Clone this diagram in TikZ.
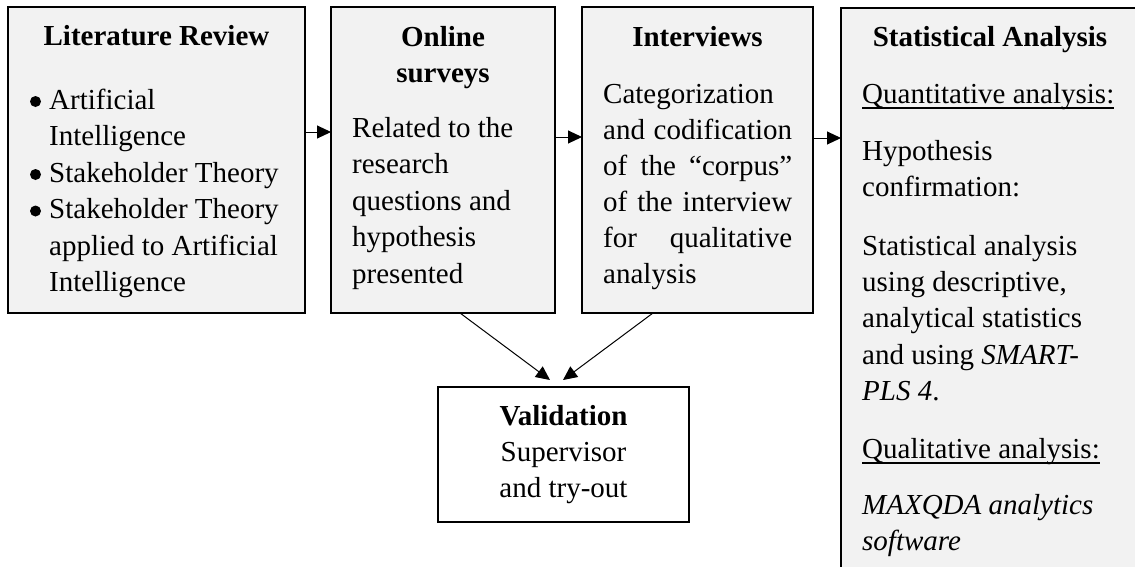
\documentclass[tikz,border=0pt]{standalone}
\usepackage{fontspec}
\setmainfont{Liberation Serif}
\usetikzlibrary{arrows.meta}
\definecolor{panelgray}{HTML}{F2F2F2}
% body font and an underline that runs through descenders
\newcommand\bodyfont{\fontsize{29}{36}\selectfont}
\newcommand\ulc[1]{\leavevmode\setbox0\hbox{#1}\rlap{\rule[-5.5pt]{\wd0}{1.5pt}}\box0}
\newcommand\jline[1]{\makebox[189pt][s]{#1}}
\begin{document}
\begin{tikzpicture}[x=1pt,y=-1pt,
  panel/.style={draw=black, line width=1.6pt, fill=panelgray, inner sep=0pt, outer sep=0pt, anchor=north west},
  whitepanel/.style={panel, fill=white, line width=1.8pt},
  txt/.style={inner sep=0pt, anchor=base west, font=\bodyfont},
  ttl/.style={inner sep=0pt, anchor=base, font=\bodyfont\bfseries},
  ctr/.style={inner sep=0pt, anchor=base, font=\bodyfont},
  dot/.style={circle, fill=black, inner sep=0pt, minimum size=11pt},
  arr/.style={-{Triangle[length=14pt,width=13pt]}, line width=1pt}]
\useasboundingbox (0,0) rectangle (1135,566);
\clip (0,0) rectangle (1135,566);

% the four stage boxes and the validation box
\node[panel, minimum width=297pt, minimum height=306pt] (lit) at (8,7) {};
\node[panel, minimum width=224pt, minimum height=306pt] (srv) at (331,7) {};
\node[panel, minimum width=231pt, minimum height=306pt] (itv) at (582,7) {};
\node[panel, minimum width=300pt, minimum height=580pt] (sta) at (841,8) {};
\node[whitepanel, minimum width=251pt, minimum height=135pt] (val) at (438,387) {};

% Literature Review
\node[ttl] (litT) at (156.5,45) {Literature Review};
\node[dot] (litB1) at (35.5,101.5) {};
\node[txt] (lit1) at (49,109) {Artificial};
\node[txt] (lit2) at (49,145.5) {Intelligence};
\node[dot] (litB2) at (35.5,174.5) {};
\node[txt] (lit3) at (49,182) {Stakeholder Theory};
\node[dot] (litB3) at (35.5,211) {};
\node[txt] (lit4) at (49,218.5) {Stakeholder Theory};
\node[txt] (lit5) at (49,255) {applied to Artificial};
\node[txt] (lit6) at (49,291.5) {Intelligence};

% Online surveys
\node[ttl] (srvT1) at (443,46) {Online};
\node[ttl] (srvT2) at (443,82) {surveys};
\node[txt] (srv1) at (352,137) {Related to the};
\node[txt] (srv2) at (352,173.5) {research};
\node[txt] (srv3) at (352,210) {questions and};
\node[txt] (srv4) at (352,246.5) {hypothesis};
\node[txt] (srv5) at (352,283) {presented};

% Interviews (justified paragraph)
\node[ttl] (itvT) at (697.5,46) {Interviews};
\node[txt] (itv1) at (603,103) {Categorization};
\node[txt] (itv2) at (603,139) {\jline{and codification}};
\node[txt] (itv3) at (603,175) {\jline{of the “corpus”}};
\node[txt] (itv4) at (603,211) {\jline{of the interview}};
\node[txt] (itv5) at (603,247) {\jline{for qualitative}};
\node[txt] (itv6) at (603,283) {analysis};

% Statistical Analysis
\node[ttl] (staT) at (990,46) {Statistical Analysis};
\node[txt] (sta1) at (862,103) {\ulc{Quantitative analysis:}};
\node[txt] (sta2) at (862,160) {Hypothesis};
\node[txt] (sta3) at (862,196.5) {confirmation:};
\node[txt] (sta4) at (862,255) {Statistical analysis};
\node[txt] (sta5) at (862,291) {using descriptive,};
\node[txt] (sta6) at (862,327.5) {analytical statistics};
\node[txt] (sta7) at (862,364) {and using \textit{SMART-}};
\node[txt] (sta8) at (862,400) {\textit{PLS 4}.};
\node[txt] (sta9) at (862,458) {\ulc{Qualitative analysis:}};
\node[txt] (sta10) at (862,514) {\textit{MAXQDA analytics}};
\node[txt] (sta11) at (862,550) {\textit{software}};

% Validation
\node[ttl] (valT) at (563.5,425) {Validation};
\node[ctr] (val1) at (563.5,461) {Supervisor};
\node[ctr] (val2) at (563.5,497) {and try-out};

% connectors
\coordinate (h1) at (0,132);
\coordinate (h2) at (0,137);
\coordinate (h3) at (0,138);
\draw[arr] (lit.east |- h1) -- (srv.west |- h1);
\draw[arr] (srv.east |- h2) -- (itv.west |- h2);
\draw[arr] (itv.east |- h3) -- (sta.west |- h3);

\coordinate (d1s) at (460,0);
\coordinate (d1e) at (550,380);
\coordinate (d2s) at (653,0);
\coordinate (d2e) at (563,380);
\draw[arr] (srv.south -| d1s) -- (d1e);
\draw[arr] (itv.south -| d2s) -- (d2e);
\end{tikzpicture}
\end{document}
